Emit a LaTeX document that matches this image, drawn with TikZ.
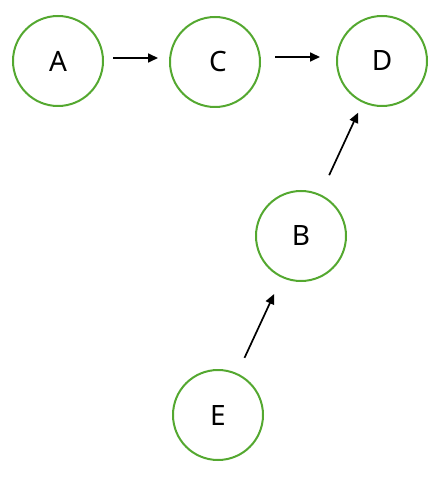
\documentclass[tikz,border=0pt]{standalone}
\usepackage{fontspec}
\setmainfont{Noto Sans}
\usetikzlibrary{arrows.meta}
\definecolor{ringgreen}{RGB}{84,168,48}
\tikzset{
  vnode/.style={circle, draw=ringgreen, line width=2pt, minimum size=90pt, inner sep=0pt,
    font=\fontsize{28}{28}\selectfont, text=black},
  arr/.style={line width=1.7pt, -{Triangle[length=10pt,width=9pt]}}
}
\begin{document}
\begin{tikzpicture}[x=1pt,y=-1pt]
\useasboundingbox (0,0) rectangle (429,478);
\node[vnode] (A) at (58,61) {A};
\node[vnode] (C) at (215,62) {\raisebox{-3pt}{\hspace{6pt}C}};
\node[vnode] (D) at (382,61) {D};
\node[vnode] (B) at (301,236) {B};
\node[vnode] (E) at (218,415) {\raisebox{-2pt}{E}};
\draw[arr, shorten <=9pt, shorten >=11pt] ([yshift=3pt]A.east) -- ([yshift=4pt]C.west);
\draw[arr, shorten <=14pt, shorten >=16pt] ([yshift=5pt]C.east) -- ([yshift=4pt]D.west);
\draw[arr, shorten <=21pt, shorten >=11pt] (B) -- (D);
\draw[arr, shorten <=17pt, shorten >=18pt] (E) -- (B);
\end{tikzpicture}
\end{document}
